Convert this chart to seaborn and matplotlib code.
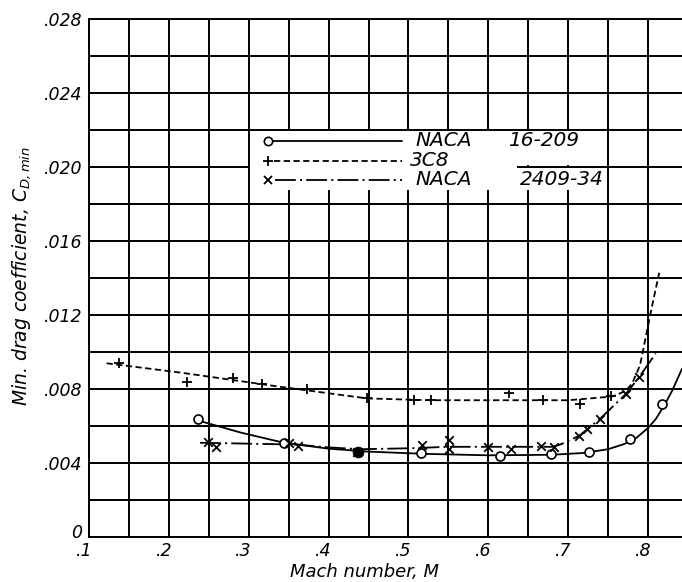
import matplotlib.pyplot as plt
import matplotlib.transforms as mtransforms
from matplotlib.patches import Rectangle
from matplotlib.ticker import MultipleLocator
import seaborn as sns

# NACA 16-209: test points (circles) and faired curve
m_16209 = [0.237, 0.344, 0.516, 0.614, 0.678, 0.726, 0.778, 0.817]
cd_16209 = [0.00636, 0.00510, 0.00452, 0.00438, 0.00447, 0.00458, 0.00528, 0.00717]
fair_m_16209 = [0.237, 0.29, 0.344, 0.40, 0.45, 0.52, 0.60, 0.68, 0.72, 0.75, 0.77,
                0.785, 0.80, 0.81, 0.82, 0.83, 0.8425]
fair_cd_16209 = [0.00630, 0.00565, 0.00510, 0.00478, 0.00462, 0.00450, 0.00442, 0.00445,
                 0.00455, 0.00475, 0.00503, 0.00535, 0.00590, 0.00640, 0.00710, 0.00790, 0.00910]

# 3C8: test points (+) and faired curve
m_3c8 = [0.138, 0.223, 0.280, 0.317, 0.373, 0.448, 0.507, 0.528, 0.626, 0.668, 0.715, 0.753]
cd_3c8 = [0.00942, 0.00836, 0.00858, 0.00830, 0.00800, 0.00750, 0.00744, 0.00740,
          0.00780, 0.00744, 0.00720, 0.00762]
fair_m_3c8 = [0.122, 0.214, 0.339, 0.448, 0.526, 0.70, 0.755, 0.772, 0.78, 0.79,
              0.797, 0.8055, 0.814]
fair_cd_3c8 = [0.00940, 0.00890, 0.00813, 0.00750, 0.00740, 0.00740, 0.00760, 0.00790,
               0.00830, 0.00930, 0.01080, 0.01260, 0.01430]

# NACA 2409-34: test points (x) and faired curve
m_2409 = [0.249, 0.259, 0.350, 0.362, 0.435, 0.517, 0.551, 0.551, 0.599, 0.628, 0.666,
          0.682, 0.714, 0.724, 0.740, 0.772, 0.789]
cd_2409 = [0.00515, 0.00485, 0.00506, 0.00492, 0.00461, 0.00497, 0.00524, 0.00474,
           0.00488, 0.00474, 0.00492, 0.00488, 0.00548, 0.00587, 0.00641, 0.00773, 0.00866]
fair_m_2409 = [0.239, 0.30, 0.36, 0.40, 0.44, 0.50, 0.55, 0.68, 0.69, 0.714, 0.74,
               0.772, 0.789, 0.8096]
fair_cd_2409 = [0.00510, 0.00505, 0.00500, 0.00485, 0.00475, 0.00480, 0.00488, 0.00488,
                0.00500, 0.00548, 0.00640, 0.00773, 0.00866, 0.00993]

# blotted point near M = .44
blob_m = [0.437]
blob_cd = [0.00462]

x_ticks = [0.1, 0.2, 0.3, 0.4, 0.5, 0.6, 0.7, 0.8]
x_labels = ['.1', '.2', '.3', '.4', '.5', '.6', '.7', '.8']
y_ticks = [0, 0.004, 0.008, 0.012, 0.016, 0.020, 0.024, 0.028]
y_labels = ['0', '.004', '.008', '.012', '.016', '.020', '.024', '.028']

sns.set_style('white')
plt.rcParams['font.family'] = ['DejaVu Sans']
plt.rcParams['font.style'] = 'italic'
plt.rcParams['mathtext.fontset'] = 'dejavusans'
plt.rcParams['lines.scale_dashes'] = False
plt.rcParams['text.color'] = 'black'
plt.rcParams['axes.labelcolor'] = 'black'
plt.rcParams['xtick.color'] = 'black'
plt.rcParams['ytick.color'] = 'black'

fig, ax = plt.subplots(figsize=(6.82, 5.82), dpi=100)
fig.subplots_adjust(left=0.1305, right=1.0, bottom=0.0773, top=0.9665)

ax.set_xlim(0.1, 0.8425)
ax.set_ylim(0, 0.028)
ax.set_xticks(x_ticks)
ax.set_xticklabels(x_labels, fontsize=12.5)
ax.set_yticks(y_ticks)
ax.set_yticklabels(y_labels, fontsize=12.5)
ax.xaxis.set_minor_locator(MultipleLocator(0.05))
ax.yaxis.set_minor_locator(MultipleLocator(0.002))
ax.set_axisbelow(True)
ax.grid(which='both', color='black', linewidth=1.4)
ax.tick_params(which='both', length=0)
ax.tick_params(axis='x', pad=3.5)
ax.tick_params(axis='y', pad=5)
shift = mtransforms.ScaledTranslation(-0.05, 0, fig.dpi_scale_trans)
for lab in ax.get_xticklabels():
    lab.set_transform(lab.get_transform() + shift)
# the "0" sits a little higher so it clears ".1"
zero_lab = ax.get_yticklabels()[0]
zero_lab.set_transform(zero_lab.get_transform()
                       + mtransforms.ScaledTranslation(0, 0.06, fig.dpi_scale_trans))

for side in ['left', 'bottom', 'top']:
    ax.spines[side].set_color('black')
    ax.spines[side].set_linewidth(1.4)
ax.spines['right'].set_visible(False)

# white area behind the key
for (x0, y0, w, h) in [(0.2715, 0.7179, 0.5765, 0.0666),
                       (0.2715, 0.6705, 0.5902, 0.0416),
                       (0.2715, 0.7080, 0.4503, 0.0140)]:
    ax.add_patch(Rectangle((x0, y0), w, h, transform=ax.transAxes,
                           facecolor='white', edgecolor='none', zorder=1))

# faired curves
sns.lineplot(x=fair_m_16209, y=fair_cd_16209, estimator=None, sort=False,
             color='black', linewidth=1.3, ax=ax)
sns.lineplot(x=fair_m_3c8, y=fair_cd_3c8, estimator=None, sort=False,
             color='black', linewidth=1.3, ax=ax)
ax.lines[-1].set_dashes([4.5, 2.5])
sns.lineplot(x=fair_m_2409, y=fair_cd_2409, estimator=None, sort=False,
             color='black', linewidth=1.3, ax=ax)
ax.lines[-1].set_dashes([15, 3, 1.5, 3])

# test points
sns.scatterplot(x=m_16209, y=cd_16209, marker='o', s=42, facecolor='white',
                edgecolor='black', linewidth=1.2, zorder=3, ax=ax)
sns.scatterplot(x=m_3c8, y=cd_3c8, marker='+', s=50, color='black',
                linewidth=1.3, zorder=3, ax=ax)
sns.scatterplot(x=m_2409, y=cd_2409, marker='x', s=38, color='black',
                linewidth=1.3, zorder=3, ax=ax)
sns.scatterplot(x=blob_m, y=blob_cd, marker='o', s=60, color='black',
                edgecolor='black', zorder=3, ax=ax)

# key
kx0, kx1 = 0.3019, 0.5278
ky = [0.7658, 0.7266, 0.6899]
ax.plot([kx0, kx1], [ky[0], ky[0]], transform=ax.transAxes, color='black', lw=1.3)
ax.plot([kx0], [ky[0]], transform=ax.transAxes, marker='o', ms=6, mfc='white',
        mec='black', mew=1.2, zorder=3)
key2, = ax.plot([kx0 + 0.01, kx1], [ky[1], ky[1]], transform=ax.transAxes,
                color='black', lw=1.3)
key2.set_dashes([4.5, 2.5])
ax.plot([kx0], [ky[1]], transform=ax.transAxes, marker='+', ms=7, color='black', mew=1.3)
key3, = ax.plot([kx0 + 0.012, kx1], [ky[2], ky[2]], transform=ax.transAxes,
                color='black', lw=1.3)
key3.set_dashes([15, 3, 1.5, 3])
ax.plot([kx0], [ky[2]], transform=ax.transAxes, marker='x', ms=6, color='black', mew=1.3)

ax.text(0.5497, ky[0], 'NACA', transform=ax.transAxes, fontsize=14.5, va='center')
ax.text(0.7066, ky[0], '16-209', transform=ax.transAxes, fontsize=14.5, va='center')
ax.text(0.5413, ky[1], '3C8', transform=ax.transAxes, fontsize=14.5, va='center')
ax.text(0.5497, ky[2], 'NACA', transform=ax.transAxes, fontsize=14.5, va='center')
ax.text(0.7268, ky[2], '2409-34', transform=ax.transAxes, fontsize=14.5, va='center')

ax.set_xlabel('Mach number, M', fontsize=13, va='top')
ax.xaxis.set_label_coords(0.465, -0.05)
ax.set_ylabel(r'Min. drag coefficient, $C_{D,min}$', fontsize=13.5, va='center')
ax.yaxis.set_label_coords(-0.113, 0.504)

plt.savefig('out.png', dpi=100)
